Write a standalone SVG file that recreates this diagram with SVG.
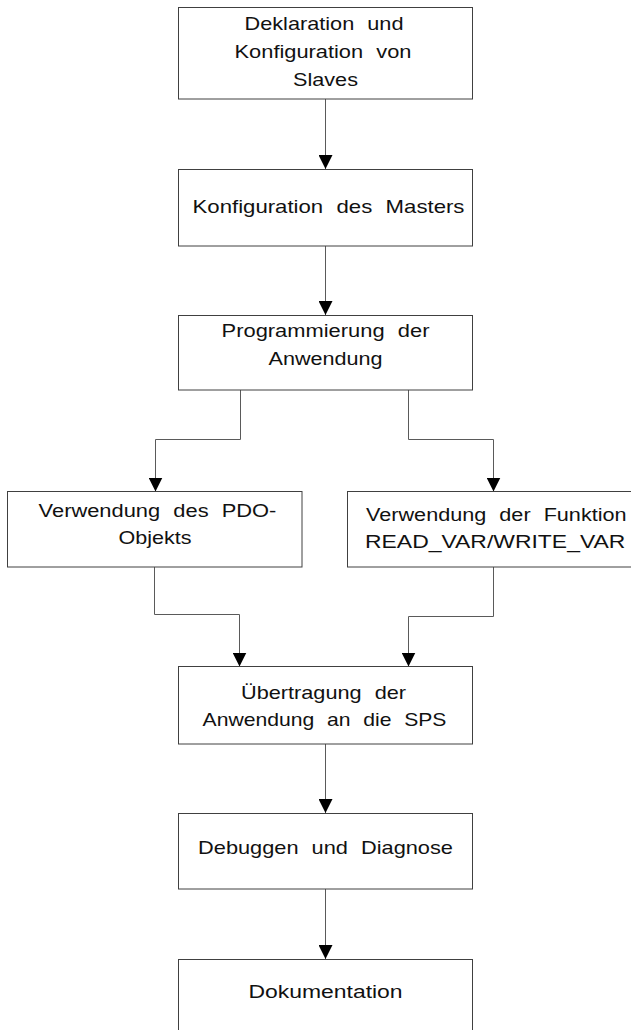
<svg xmlns="http://www.w3.org/2000/svg" width="631" height="1030" viewBox="0 0 631 1030">
<style>
.box{fill:#ffffff;stroke:#404040;stroke-width:1}
.lbl{font-family:"Liberation Sans",Arial,sans-serif;font-size:18.5px;fill:#111111;word-spacing:6px}
.c{text-anchor:middle}
.con{fill:none;stroke:#5a5a5a;stroke-width:1;marker-end:url(#ah)}
</style>
<defs>
<marker id="ah" markerUnits="userSpaceOnUse" markerWidth="14" markerHeight="14" viewBox="0 0 13 13" refX="13" refY="6.5" orient="auto">
<path d="M0,0 L13,6.5 L0,13 z" fill="#000000"/>
</marker>
</defs>
<rect width="631" height="1030" fill="#ffffff"/>
<g id="connectors">
<path class="con" d="M325.5,99 V169"/>
<path class="con" d="M325.5,246 V315"/>
<path class="con" d="M240.5,390 V439.5 H155.5 V491.5"/>
<path class="con" d="M408.5,390 V439.5 H493.5 V491.5"/>
<path class="con" d="M154.5,567 V614.5 H239.5 V666.5"/>
<path class="con" d="M493.5,567 V616.5 H408.5 V666.5"/>
<path class="con" d="M325.5,744 V813"/>
<path class="con" d="M325.5,889 V959"/>
</g>
<g id="n1">
<rect class="box" x="178.5" y="7.5" width="294" height="91.5"/>
<text class="lbl c" transform="translate(324 30) scale(1.173 1)">Deklaration und</text>
<text class="lbl c" transform="translate(323 58) scale(1.18 1)">Konfiguration von</text>
<text class="lbl c" transform="translate(325.5 86) scale(1.17 1)">Slaves</text>
</g>
<g id="n2">
<rect class="box" x="178.5" y="169.5" width="294" height="76.5"/>
<text class="lbl c" transform="translate(328.5 213) scale(1.199 1)">Konfiguration des Masters</text>
</g>
<g id="n3">
<rect class="box" x="178.5" y="315.5" width="294" height="74.5"/>
<text class="lbl c" transform="translate(325.5 337) scale(1.184 1)">Programmierung der</text>
<text class="lbl c" transform="translate(325.5 364.5) scale(1.167 1)">Anwendung</text>
</g>
<g id="n4">
<rect class="box" x="7.5" y="491.5" width="294.5" height="75.5"/>
<text class="lbl c" transform="translate(157.5 516.5) scale(1.182 1)">Verwendung des PDO-</text>
<text class="lbl c" transform="translate(155 543.5) scale(1.164 1)">Objekts</text>
</g>
<g id="n5">
<rect class="box" x="347.5" y="491.5" width="294" height="75.5"/>
<text class="lbl" transform="translate(366 521) scale(1.17 1)">Verwendung der Funktion</text>
<text class="lbl" transform="translate(365 548) scale(1.24 1)">READ_VAR/WRITE_VAR</text>
</g>
<g id="n6">
<rect class="box" x="178.5" y="666.5" width="294" height="77.5"/>
<text class="lbl c" transform="translate(323.5 698.5) scale(1.173 1)">Übertragung der</text>
<text class="lbl c" transform="translate(324.5 725.5) scale(1.143 1)">Anwendung an die SPS</text>
</g>
<g id="n7">
<rect class="box" x="178.5" y="813.5" width="294" height="75.5"/>
<text class="lbl c" transform="translate(325.5 853.5) scale(1.177 1)">Debuggen und Diagnose</text>
</g>
<g id="n8">
<rect class="box" x="178.5" y="959.5" width="294" height="80"/>
<text class="lbl c" transform="translate(325.5 998) scale(1.24 1)">Dokumentation</text>
</g>
</svg>
